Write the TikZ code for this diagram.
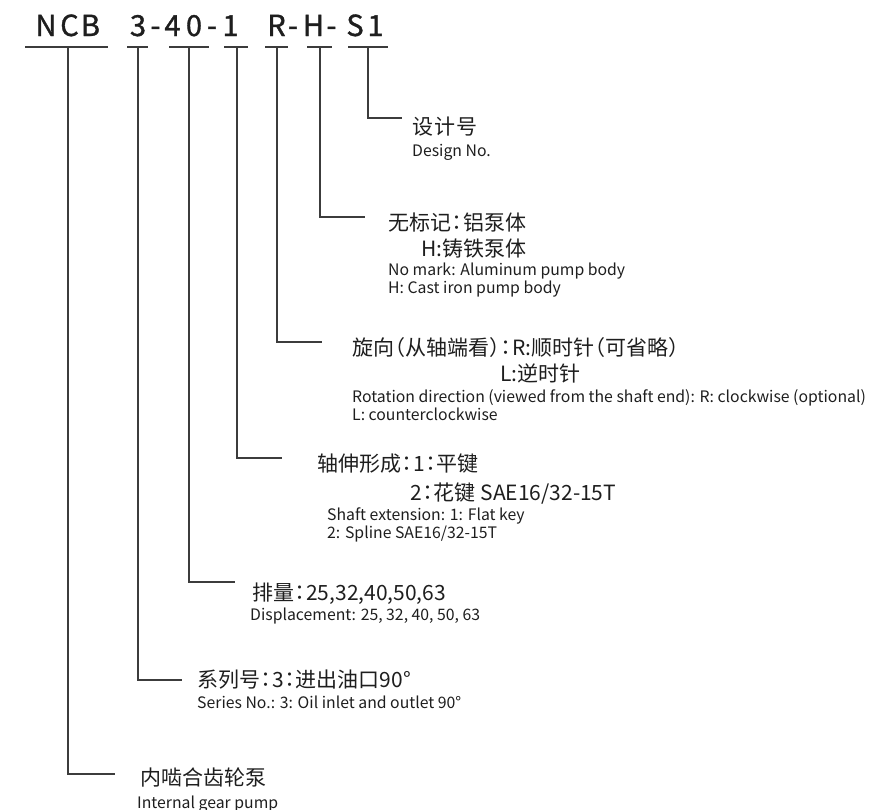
\documentclass[tikz,border=0pt]{standalone}
\usepackage{fontspec}
\setmainfont{Noto Sans CJK SC}
\newfontfamily\tcfont{Noto Sans CJK TC}
\newfontfamily\ttlfont[FakeBold=1.2]{Noto Sans CJK SC}
\newcommand{\fcol}{\makebox[12pt][c]{\tcfont ：}}
\newcommand{\fop}{\makebox[11pt][r]{（}}
\newcommand{\fcl}{\makebox[11pt][l]{）}}
\definecolor{txt}{HTML}{1E1E1E}
\definecolor{ln}{HTML}{3C3C3C}
\begin{document}
\begin{tikzpicture}[x=1pt,y=-1pt,
  cn/.style={anchor=base west,inner sep=0pt,text=txt,font=\fontsize{21}{25}\selectfont},
  en/.style={anchor=base west,inner sep=0pt,text=txt,font=\fontsize{15.8}{18}\selectfont},
  ttl/.style={anchor=base,inner sep=0pt,text=txt,font=\ttlfont\fontsize{29}{34}\selectfont},
  uline/.style={draw=ln,line width=1.1pt},
  conn/.style={draw=ln,line width=1.1pt}]
\useasboundingbox (0,0) rectangle (896,809);
% title characters
\node[ttl] (cN) at (46,36) {N};
\node[ttl] (cC) at (69.5,36) {C};
\node[ttl] (cB) at (90.5,36) {B};
\node[ttl] (c3) at (138,36) {3};
\node[ttl] (d1) at (155.5,36) {-};
\node[ttl] (c4) at (172.5,36) {4};
\node[ttl] (c0) at (194,36) {0};
\node[ttl] (d2) at (212,36) {-};
\node[ttl] (c1) at (230.5,36) {1};
\node[ttl] (cR) at (276.5,36) {R};
\node[ttl] (d3) at (293,36) {-};
\node[ttl] (cH) at (313.5,36) {H};
\node[ttl] (d4) at (331.5,36) {-};
\node[ttl] (cS) at (355,36) {S};
\node[ttl] (cS1) at (375.5,36) {1};
% underlines
\coordinate (aL) at (25,47);  \coordinate (aR) at (108,47);
\coordinate (bL) at (127,47); \coordinate (bR) at (148,47);
\coordinate (fL) at (169,47); \coordinate (fR) at (209,47);
\coordinate (gL) at (224,47); \coordinate (gR) at (248,47);
\coordinate (rL) at (265,47); \coordinate (rR) at (288,47);
\coordinate (hL) at (307,47); \coordinate (hR) at (332,47);
\coordinate (sL) at (348,47); \coordinate (sR) at (388,47);
\draw[uline] (aL) -- (aR);
\draw[uline] (bL) -- (bR);
\draw[uline] (fL) -- (fR);
\draw[uline] (gL) -- (gR);
\draw[uline] (rL) -- (rR);
\draw[uline] (hL) -- (hR);
\draw[uline] (sL) -- (sR);
% connector start points
\coordinate (aT) at (68,47);
\coordinate (bT) at (138,47);
\coordinate (fT) at (189,47);
\coordinate (gT) at (237,47);
\coordinate (rT) at (277,47);
\coordinate (hT) at (320,47);
\coordinate (sT) at (368,47);
% connector ends
\coordinate (aE) at (115,774);
\coordinate (bE) at (182,680);
\coordinate (fE) at (235,582);
\coordinate (gE) at (282,458);
\coordinate (rE) at (322,342);
\coordinate (hE) at (365,217);
\coordinate (sE) at (402,118);
\draw[conn] (aT) |- (aE);
\draw[conn] (bT) |- (bE);
\draw[conn] (fT) |- (fE);
\draw[conn] (gT) |- (gE);
\draw[conn] (rT) |- (rE);
\draw[conn] (hT) |- (hE);
\draw[conn] (sT) |- (sE);
% texts
\node[cn] (t1) at (412,134.5) {设\hspace{1pt}计\hspace{1pt}号};
\node[en] (e1) at (412,156) {Design No.};
\node[cn] (t2) at (388,230.5) {无标记\fcol 铝泵体};
\node[cn] (t2b) at (421,256.5) {H:铸铁泵体};
\node[en] (e2) at (388,275) {No mark: Aluminum pump body};
\node[en] (e2b) at (388,293) {H: Cast iron pump body};
\node[cn] (t3) at (352,355.5) {旋向\fop 从轴端看\fcl\fcol R:顺时针\fop 可省略\fcl};
\node[cn] (t3b) at (500,381.5) {L:逆时针};
\node[en] (e3) at (352,402) {Rotation direction (viewed from the shaft end): R: clockwise (optional)};
\node[en] (e3b) at (352,420) {L: counterclockwise};
\node[cn] (t4) at (317,471.5) {轴伸形成\fcol 1\fcol 平键};
\node[cn] (t4b) at (410,500.5) {2\fcol 花键 SAE16/32-15T};
\node[en] (e4) at (327,520) {Shaft extension: 1: Flat key};
\node[en] (e4b) at (327,538) {2: Spline SAE16/32-15T};
\node[cn] (t5) at (252,600.5) {排量\fcol 25,32,40,50,63};
\node[en] (e5) at (250,620) {Displacement: 25, 32, 40, 50, 63};
\node[cn] (t6) at (197,687.5) {系列号\fcol 3\fcol 进出油口90°};
\node[en] (e6) at (197,708) {Series No.: 3: Oil inlet and outlet 90°};
\node[cn] (t7) at (140,785.5) {内啮合齿轮泵};
\node[en] (e7) at (137,808) {Internal gear pump};
\end{tikzpicture}
\end{document}
